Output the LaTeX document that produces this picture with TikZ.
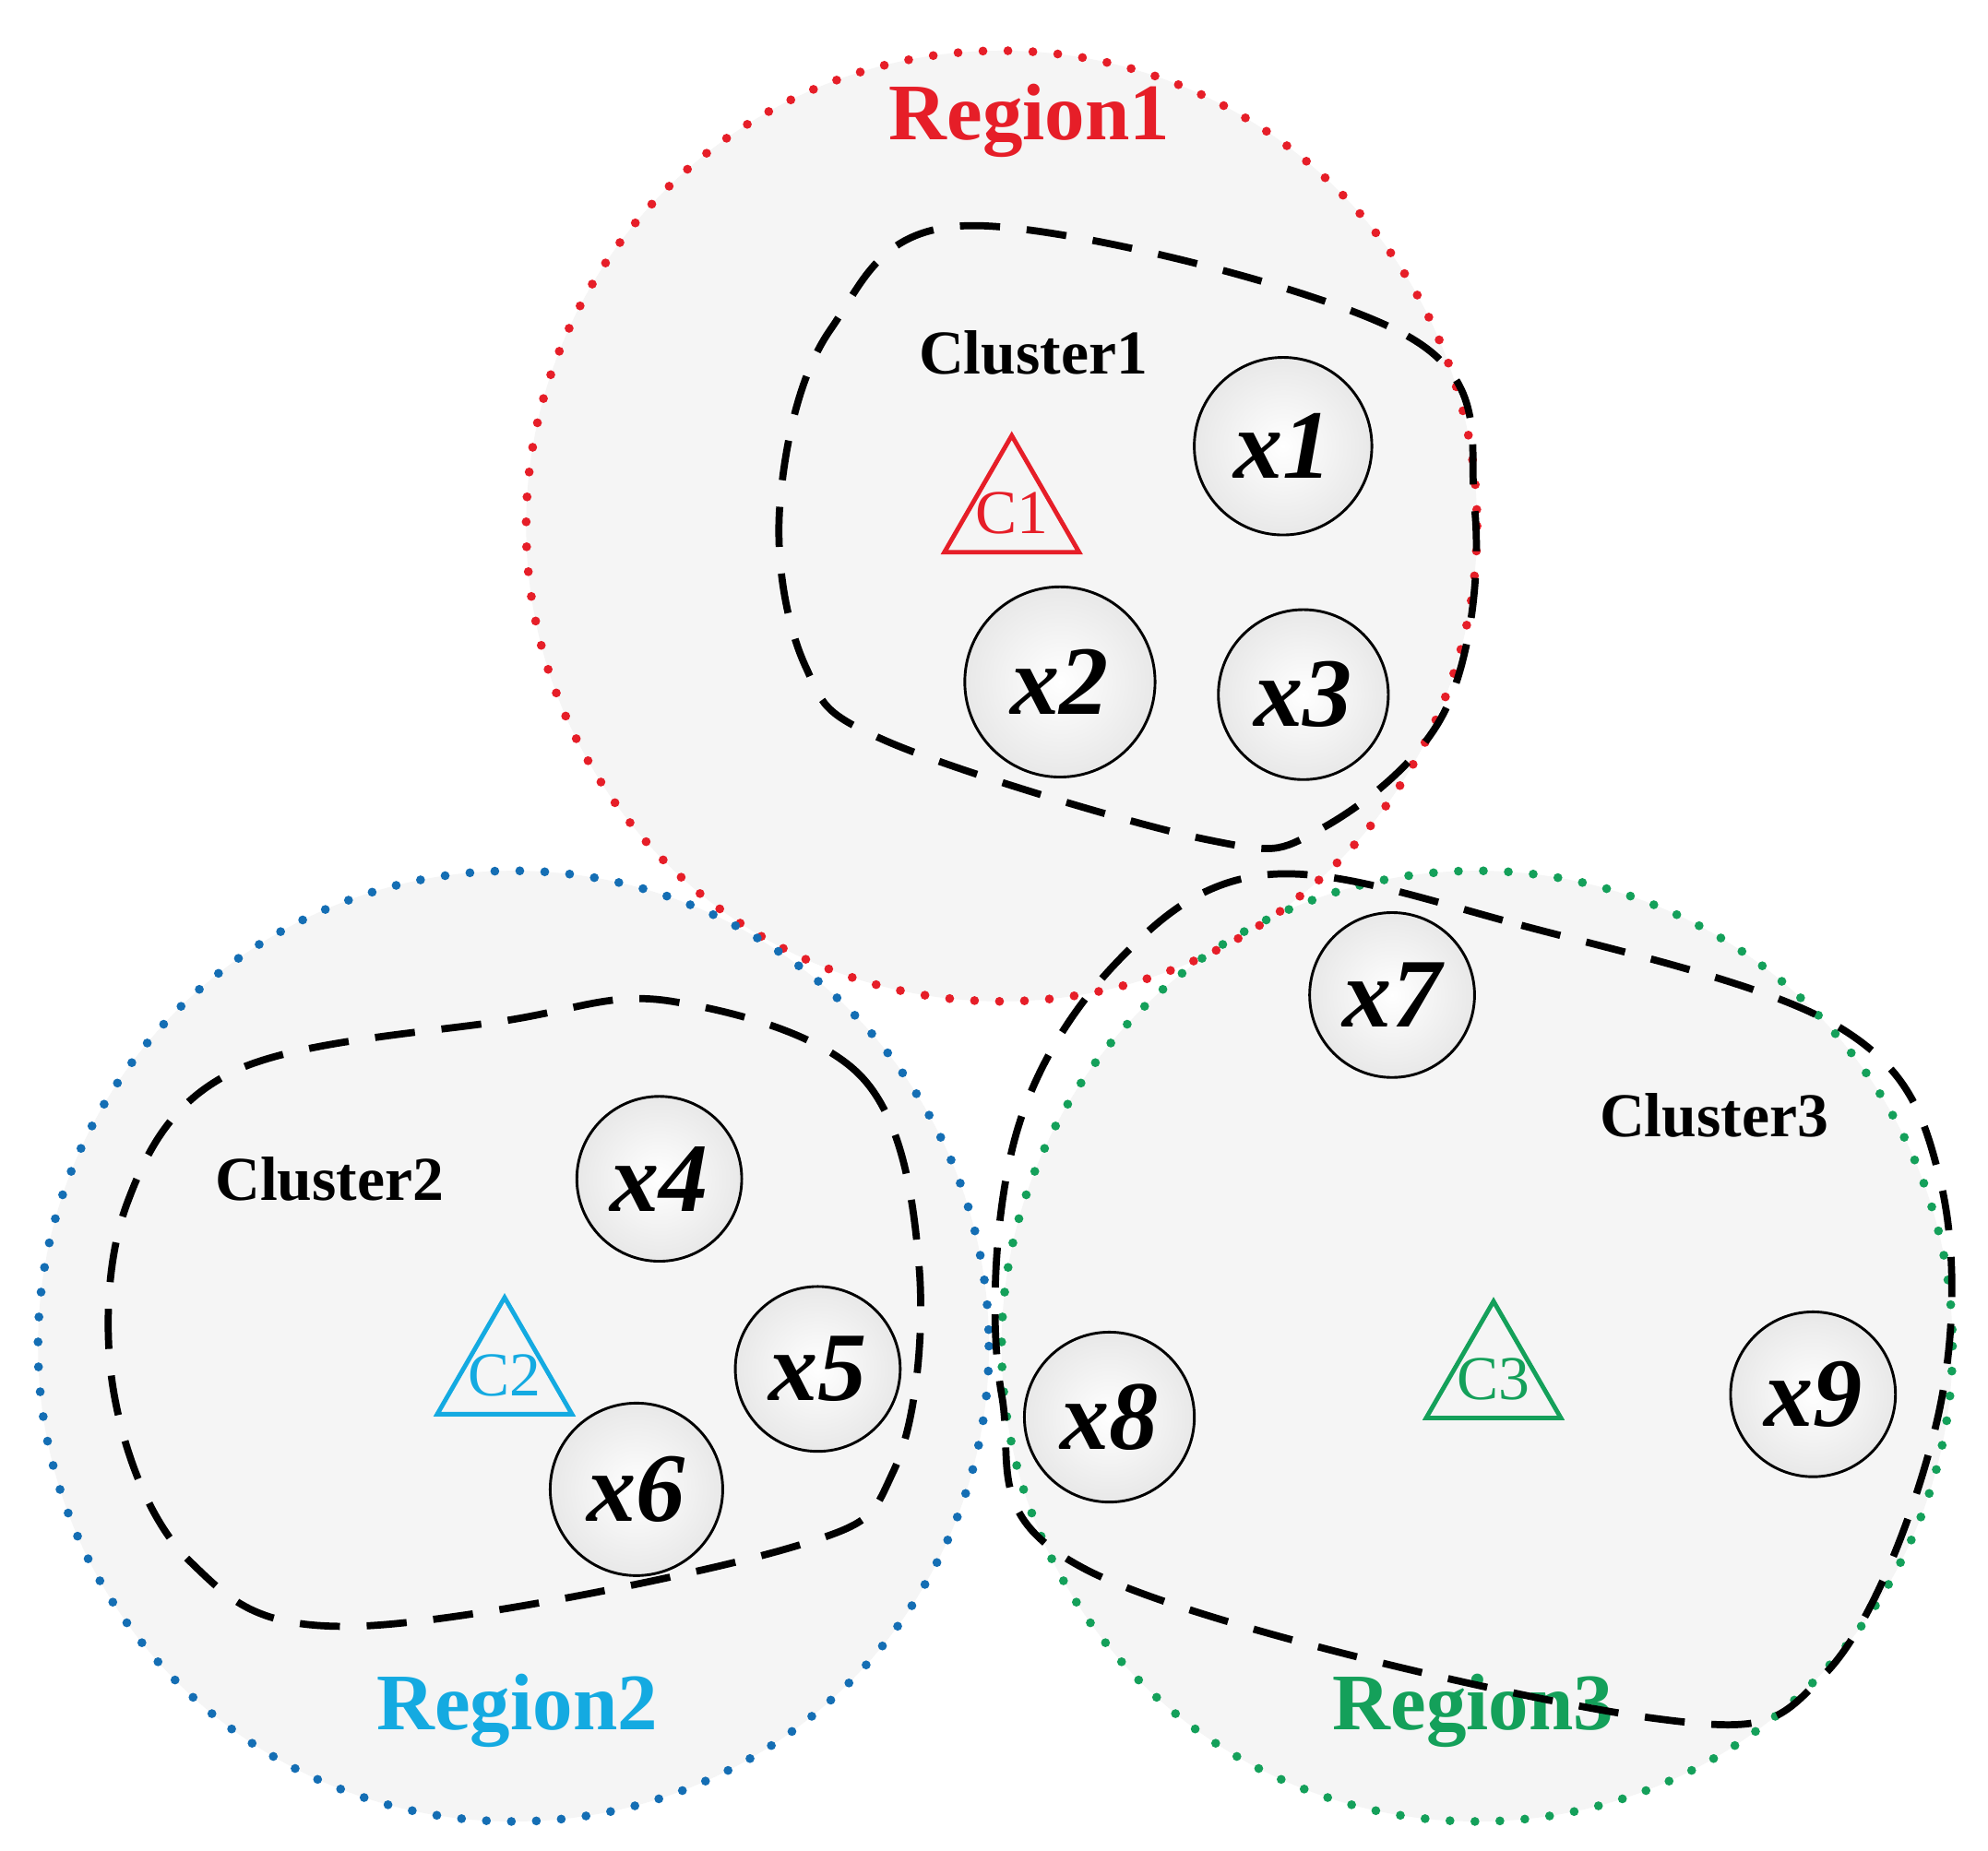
\documentclass[tikz,border=0pt]{standalone}
\usepackage{fontspec}
\setmainfont{Liberation Serif}
\usetikzlibrary{shapes.geometric}
\definecolor{rred}{RGB}{230,30,40}
\definecolor{rblue}{RGB}{20,110,180}
\definecolor{rcyan}{RGB}{20,170,225}
\definecolor{rgreen}{RGB}{20,160,90}
\begin{document}
\begin{tikzpicture}[x=0.01cm,y=-0.01cm,
 region/.style={line width=2pt,dash pattern=on 0pt off 5.6pt,line cap=round},
 cluster/.style={line width=1.6pt,dash pattern=on 9pt off 6pt,draw=black},
 pt/.style={circle,draw=black,line width=0.6pt,inner sep=0pt,minimum size=#1,
   shade,inner color=white,outer color=gray!18,font=\fontsize{22}{22}\selectfont\bfseries\itshape},
 cen/.style={regular polygon,regular polygon sides=3,draw=#1,text=#1,line width=1pt,
   minimum size=1.2cm,inner sep=-2pt,font=\fontsize{14}{14}\selectfont},
 clab/.style={font=\fontsize{14}{14}\selectfont\bfseries},
 rlab/.style={font=\fontsize{18}{18}\selectfont\bfseries}]
\useasboundingbox (0,0) rectangle (1568,1460);
\fill[white] (0,0) rectangle (1568,1460);
\fill[gray!8] (790,415) circle (375);
\fill[gray!8] (405,1062) circle (375);
\fill[gray!8] (1165,1062) circle (375);
\draw[region,draw=rred] (790,415) circle (375);
\draw[region,draw=rblue] (405,1062) circle (375);
\draw[region,draw=rgreen] (1165,1062) circle (375);
\node[rlab,text=rred] (r1) at (812,95) {Region1};
\node[rlab,text=rcyan] (r2) at (408,1350) {Region2};
\node[rlab,text=rgreen] (r3) at (1162,1350) {Region3};
% clusters
\draw[cluster] plot[smooth cycle,tension=0.6] coordinates {(770,178) (1110,265) (1163,400) (1140,560) (1040,655) (950,662) (700,585) (635,525) (615,400) (655,260)};
\draw[cluster] plot[smooth cycle,tension=0.6] coordinates {(530,790) (680,850) (725,1000) (705,1160) (620,1222) (280,1283) (150,1232) (90,1100) (100,950) (185,845) (400,805)};
\draw[cluster] plot[smooth cycle,tension=0.6] coordinates {(1000,690) (1200,730) (1450,810) (1530,930) (1528,1120) (1440,1320) (1300,1355) (860,1240) (790,1100) (800,900) (880,760)};
\node[clab] (l1) at (815,278) {Cluster1};
\node[clab] (l2) at (260,930) {Cluster2};
\node[clab] (l3) at (1352,880) {Cluster3};
\node[pt=1.40cm] (x1) at (1012,352) {x1};
\node[pt=1.50cm] (x2) at (836,538) {x2};
\node[pt=1.34cm] (x3) at (1028,548) {x3};
\node[pt=1.30cm] (x4) at (520,930) {x4};
\node[pt=1.30cm] (x5) at (645,1080) {x5};
\node[pt=1.36cm] (x6) at (502,1175) {x6};
\node[pt=1.30cm] (x7) at (1098,785) {x7};
\node[pt=1.34cm] (x8) at (875,1118) {x8};
\node[pt=1.30cm] (x9) at (1430,1100) {x9};
\node[cen=rred] (c1) at (798,405) {C1};
\node[cen=rcyan] (c2) at (398,1085) {C2};
\node[cen=rgreen] (c3) at (1178,1088) {C3};
\end{tikzpicture}
\end{document}
